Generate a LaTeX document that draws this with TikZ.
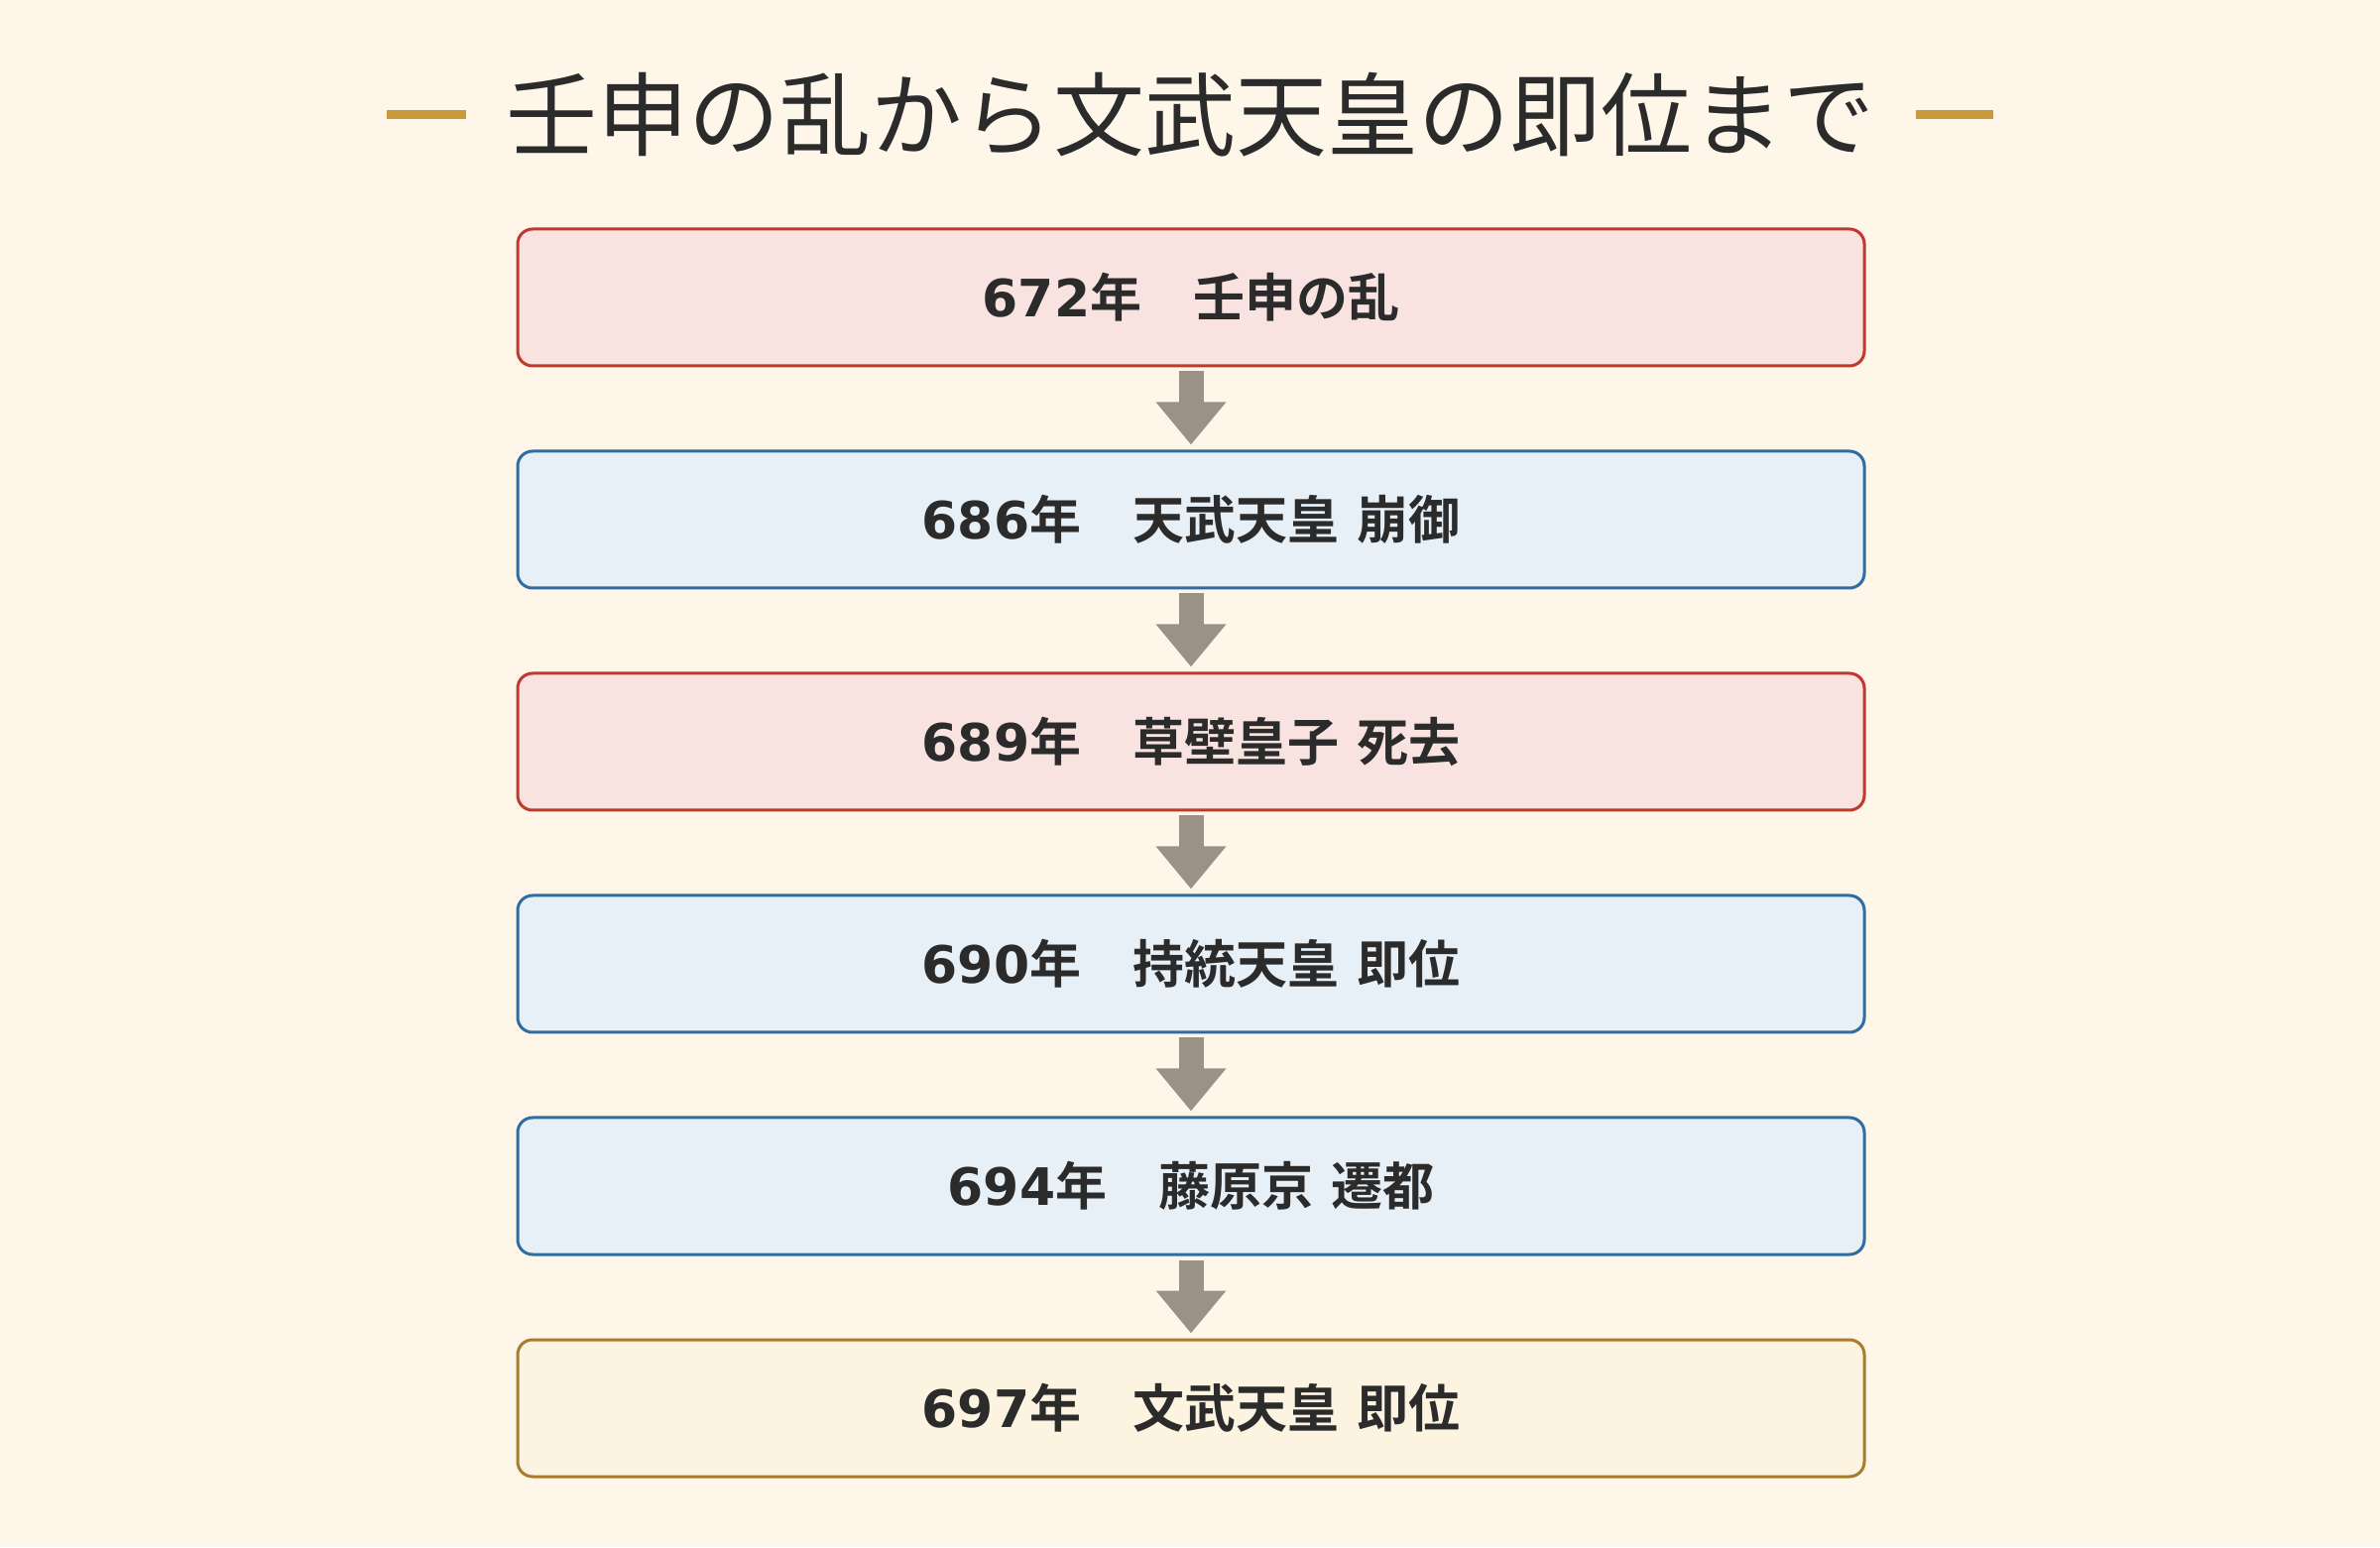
\documentclass[tikz,border=0pt]{standalone}
\usepackage{fontspec}
\setmainfont{DejaVu Sans}
\newfontfamily\cjk{Noto Sans CJK JP}[BoldFont={Noto Sans CJK JP Bold}]
\usetikzlibrary{arrows.meta}
\definecolor{bg}{HTML}{FDF6E9}
\definecolor{txt}{HTML}{2B2B2B}
\definecolor{gold}{HTML}{C99A3C}
\definecolor{redfill}{HTML}{F8E3E1}
\definecolor{redline}{HTML}{C0392B}
\definecolor{bluefill}{HTML}{E8F0F7}
\definecolor{blueline}{HTML}{2E6DA4}
\definecolor{goldfill}{HTML}{FCF3E0}
\definecolor{goldline}{HTML}{A87C2A}
\definecolor{arrowc}{HTML}{9A9287}
\tikzset{
  event/.style={rectangle, rounded corners=7.5pt, line width=1.5pt,
    minimum width=679pt, minimum height=69pt, inner sep=0pt,
    text=txt, font=\fontsize{26}{30}\selectfont\bfseries},
  redbox/.style={event, draw=redline, fill=redfill},
  bluebox/.style={event, draw=blueline, fill=bluefill},
  goldbox/.style={event, draw=goldline, fill=goldfill},
  flow/.style={draw=arrowc, line width=12.5pt,
    -{Triangle[width=34pt,length=21.5pt]}, shorten <=2pt, shorten >=2.5pt},
  titlebar/.style={draw=gold, line width=4.5pt},
}
\begin{document}
\begin{tikzpicture}[x=1pt,y=1pt]
\fill[bg] (0,0) rectangle (1200,780);
\useasboundingbox (0,0) rectangle (1200,780);
\node[text=txt, font=\cjk\fontsize{46}{54}\selectfont, inner sep=0pt] (title) at (600,722) {壬申の乱から文武天皇の即位まで};
\coordinate (l1) at (195,722); \coordinate (l2) at (235,722);
\coordinate (r1) at (966,722); \coordinate (r2) at (1005,722);
\draw[titlebar] (l1) -- (l2);
\draw[titlebar] (r1) -- (r2);
\node[redbox] (e1) at (600.5,630) {672{\cjk 年　壬申の乱}};
\node[bluebox] (e2) at (600.5,518) {686{\cjk 年　天武天皇} {\cjk 崩御}};
\node[redbox] (e3) at (600.5,406) {689{\cjk 年　草壁皇子} {\cjk 死去}};
\node[bluebox] (e4) at (600.5,294) {690{\cjk 年　持統天皇} {\cjk 即位}};
\node[bluebox] (e5) at (600.5,182) {694{\cjk 年　藤原京} {\cjk 遷都}};
\node[goldbox] (e6) at (600.5,70) {697{\cjk 年　文武天皇} {\cjk 即位}};
\foreach \a/\b in {e1/e2,e2/e3,e3/e4,e4/e5,e5/e6}
  \draw[flow] (\a.south) -- (\b.north);
\end{tikzpicture}
\end{document}
